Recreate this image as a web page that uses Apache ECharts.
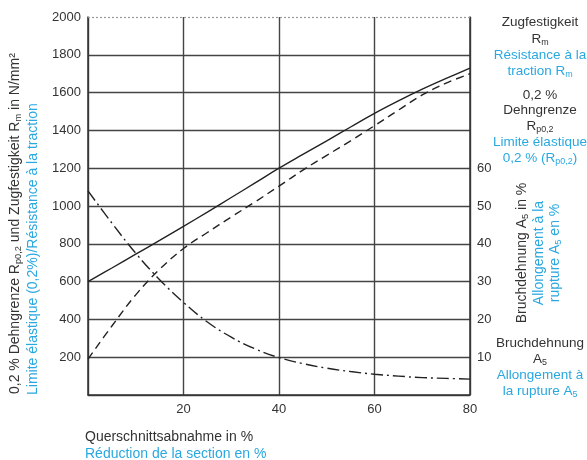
<!DOCTYPE html>
<html><head><meta charset="utf-8">
<script src="https://cdn.jsdelivr.net/npm/echarts@6/dist/echarts.min.js"></script>
<style>html,body{margin:0;padding:0;background:#fff}#c{width:587px;height:460px}</style>
</head><body><div id="c"></div>
<script>
// Data
const reductionPct = [0,5,10,15,20,25,30,35,40,45,50,55,60,65,70,75,80];
const tensileRm   = [600,672,745,818,892,968,1045,1122,1200,1273,1345,1418,1490,1556,1618,1675,1730];
const yieldRp02   = [190,365,530,665,775,860,942,1022,1105,1190,1268,1345,1425,1507,1588,1650,1700];
const elongA5     = [54,45.5,37.5,30.5,24.5,19.3,15.3,12.2,9.9,8.3,7.1,6.2,5.5,5.0,4.6,4.4,4.2];
const leftTicks = [200,400,600,800,1000,1200,1400,1600,1800,2000];
const rightTicks = [10,20,30,40,50,60];
const xTicks = [20,40,60,80];

const pair = (xs, ys) => xs.map((x,i)=>[x, ys[i]]);
const BLACK = '#333', BLUE = '#2aa8e0', FONT = 'Liberation Sans, Arial, sans-serif';
const chart = echarts.init(document.getElementById('c'));
const richBase = (color, fs) => ({
  n: {fontSize: fs, color, fontFamily: FONT, lineHeight: 16, verticalAlign: 'middle'},
  s: {fontSize: fs*0.66, color, fontFamily: FONT, lineHeight: 16, verticalAlign: 'bottom'}
});
function txt(x, y, str, color, align, rot, fs) {
  fs = fs || 13.5;
  return {type:'text', x, y, rotation: rot || 0,
    style:{text:str, fill:color, font:fs+'px '+FONT, align: align||'center', verticalAlign:'middle',
      rich: richBase(color, fs)}};
}
const lineStyleBase = {color:'#222', width:1.4};
chart.setOption({
  animation:false,
  grid:{left:88, right:117, top:17, bottom:65},
  xAxis:{type:'value', min:0, max:80, interval:20,
    axisLine:{show:true, lineStyle:{color:BLACK, width:1.5}}, axisTick:{show:false},
    axisLabel:{color:BLACK, fontSize:13, fontFamily:FONT, margin:8,
      formatter:v=> xTicks.includes(v) ? String(v) : ''},
    splitLine:{show:true, lineStyle:{color:'#444', width:1.4}}},
  yAxis:[
    {type:'value', min:0, max:2000, interval:200, position:'left',
     axisLine:{show:true, lineStyle:{color:BLACK, width:1.5}}, axisTick:{show:false},
     axisLabel:{color:BLACK, fontSize:13, fontFamily:FONT, margin:7,
       formatter:v=> leftTicks.includes(v) ? String(v) : ''},
     splitLine:{show:true, showMaxLine:false, lineStyle:{color:'#444', width:1.4}}},
    {type:'value', min:0, max:100, interval:10, position:'right',
     axisLine:{show:true, lineStyle:{color:BLACK, width:1.5}}, axisTick:{show:false},
     axisLabel:{color:BLACK, fontSize:13, fontFamily:FONT, margin:7,
       formatter:v=> rightTicks.includes(v) ? String(v) : ''},
     splitLine:{show:false}}
  ],
  series:[
    {type:'line', name:'Rm', data:pair(reductionPct, tensileRm), smooth:0.4, symbol:'none',
     lineStyle:{...lineStyleBase, type:'solid'},
     markLine:{silent:true, symbol:'none', label:{show:false},
       lineStyle:{color:'#999', type:[2,2], width:1.2}, data:[{yAxis:2000}]}},
    {type:'line', name:'Rp0,2', data:pair(reductionPct, yieldRp02), smooth:0.4, symbol:'none',
     lineStyle:{...lineStyleBase, type:[8,5]}},
    {type:'line', name:'A5', yAxisIndex:1, data:pair(reductionPct, elongA5), smooth:0.4, symbol:'none',
     lineStyle:{...lineStyleBase, type:[12,4,2,4]}}
  ],
  graphic:[
    txt(15, 394, '{n|0,2 % Dehngrenze R}{s|p0,2}{n| und Zugfestigkeit R}{s|m}{n| in N/mm²}', BLACK, 'left', Math.PI/2, 14),
    txt(33, 395, '{n|Limite élastique (0,2%)/Résistance à la traction}', BLUE, 'left', Math.PI/2, 14),
    txt(522, 253, '{n|Bruchdehnung A}{s|5}{n| in %}', BLACK, 'center', Math.PI/2, 14),
    txt(539, 253, '{n|Allongement à la}', BLUE, 'center', Math.PI/2, 14),
    txt(555, 253, '{n|rupture A}{s|5}{n| en %}', BLUE, 'center', Math.PI/2, 14),
    txt(540, 22, '{n|Zugfestigkeit}', BLACK),
    txt(540, 39, '{n|R}{s|m}', BLACK),
    txt(540, 55, '{n|Résistance à la}', BLUE),
    txt(540, 71, '{n|traction R}{s|m}', BLUE),
    txt(540, 95, '{n|0,2 %}', BLACK),
    txt(540, 110, '{n|Dehngrenze}', BLACK),
    txt(540, 126, '{n|R}{s|p0,2}', BLACK),
    txt(540, 142, '{n|Limite élastique}', BLUE),
    txt(540, 158, '{n|0,2 % (R}{s|p0,2}{n|)}', BLUE),
    txt(540, 343, '{n|Bruchdehnung}', BLACK),
    txt(540, 359, '{n|A}{s|5}', BLACK),
    txt(540, 375, '{n|Allongement à}', BLUE),
    txt(540, 391, '{n|la rupture A}{s|5}', BLUE),
    txt(85, 437, '{n|Querschnittsabnahme in %}', BLACK, 'left', 0, 14),
    txt(85, 454, '{n|Réduction de la section en %}', BLUE, 'left', 0, 14)
  ]
});
</script></body></html>
